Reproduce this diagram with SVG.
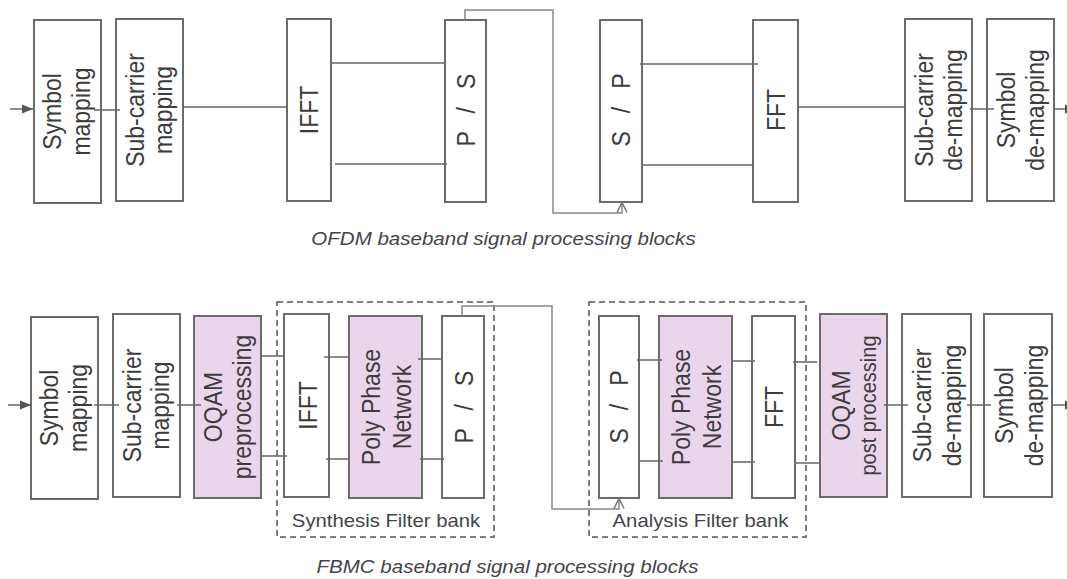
<svg xmlns="http://www.w3.org/2000/svg" width="1067" height="579" viewBox="0 0 1067 579">
<style>
.box{fill:#fff;stroke:#6b6b6b;stroke-width:2}
.pbox{fill:#ead6ea;stroke:#6b6b6b;stroke-width:2}
.ln{fill:none;stroke:#666;stroke-width:1.5}
.cn{fill:none;stroke:#888;stroke-width:1.5}
.dash{fill:none;stroke:#555;stroke-width:1.5;stroke-dasharray:6 4}
.lbl{font-family:"Liberation Sans",Arial,sans-serif;font-size:23px;fill:#3c3c3c;text-anchor:middle}
.sm{font-size:20px}
.ps{word-spacing:11.7px}
.cap{font-family:"Liberation Sans",Arial,sans-serif;font-size:18px;font-style:italic;fill:#44444c;text-anchor:middle}
.fb{font-family:"Liberation Sans",Arial,sans-serif;font-size:17.8px;fill:#44444c;text-anchor:middle}
</style>
<defs>
<marker id="tri" viewBox="0 0 11 10" refX="11" refY="5" markerWidth="11" markerHeight="10" markerUnits="userSpaceOnUse" orient="auto"><path d="M0,0.5 L11,5 L0,9.5 z" fill="#555"/></marker>
<marker id="open" viewBox="0 0 12 12" refX="11" refY="6" markerWidth="12" markerHeight="12" markerUnits="userSpaceOnUse" orient="auto"><path d="M1,1 L11,6 L1,11" fill="none" stroke="#777" stroke-width="1.5"/></marker>
</defs>
<rect width="1067" height="579" fill="#fff"/>

<!-- OFDM row -->
<g id="ofdm-symbol-mapping"><rect class="box" x="34" y="20" width="67" height="183"/>
<text class="lbl" transform="translate(67.5,111.5) scale(1.14,1) rotate(-90)"><tspan x="0" y="-6">Symbol</tspan><tspan x="0" y="19.5">mapping</tspan></text></g>
<g id="ofdm-subcarrier-mapping"><rect class="box" x="116" y="19" width="67" height="182"/>
<text class="lbl" transform="translate(149.5,110) scale(1.14,1) rotate(-90)"><tspan x="0" y="-5">Sub-carrier</tspan><tspan x="0" y="20">mapping</tspan></text></g>
<g id="ofdm-ifft"><rect class="box" x="287" y="19" width="44" height="182"/>
<text class="lbl" transform="translate(309,110) scale(1.14,1) rotate(-90)" x="0" y="8.3">IFFT</text></g>
<g id="ofdm-ps"><rect class="box" x="445" y="20" width="41" height="182"/>
<text class="lbl ps" transform="translate(465.5,110) scale(1.14,1) rotate(-90)" x="0" y="8.3">P / S</text></g>
<g id="ofdm-sp"><rect class="box" x="600" y="20" width="42" height="182"/>
<text class="lbl ps" transform="translate(621,110) scale(1.14,1) rotate(-90)" x="0" y="8.3">S / P</text></g>
<g id="ofdm-fft"><rect class="box" x="753" y="20" width="45" height="182"/>
<text class="lbl" transform="translate(775.5,110) scale(1.14,1) rotate(-90)" x="0" y="8.3">FFT</text></g>
<g id="ofdm-subcarrier-demapping"><rect class="box" x="905" y="19" width="67" height="182"/>
<text class="lbl" transform="translate(938.5,110) scale(1.14,1) rotate(-90)"><tspan x="0" y="-5">Sub-carrier</tspan><tspan x="0" y="21">de-mapping</tspan></text></g>
<g id="ofdm-symbol-demapping"><rect class="box" x="987" y="19" width="67" height="182"/>
<text class="lbl" transform="translate(1020.5,110) scale(1.14,1) rotate(-90)"><tspan x="0" y="-5">Symbol</tspan><tspan x="0" y="21">de-mapping</tspan></text></g>
<text class="cap" transform="translate(503.5,245) scale(1.14,1)" x="0" y="0">OFDM baseband signal processing blocks</text>

<!-- FBMC row -->
<g id="synthesis-filter-bank"><rect class="dash" x="277" y="302" width="217" height="235"/>
<text class="fb" transform="translate(386,527) scale(1.14,1)" x="0" y="0">Synthesis Filter bank</text></g>
<g id="analysis-filter-bank"><rect class="dash" x="589" y="302" width="217" height="235"/>
<text class="fb" transform="translate(700.5,527) scale(1.14,1)" x="0" y="0">Analysis Filter bank</text></g>

<g id="fbmc-symbol-mapping"><rect class="box" x="31" y="317" width="67" height="182"/>
<text class="lbl" transform="translate(64.5,408) scale(1.14,1) rotate(-90)"><tspan x="0" y="-6">Symbol</tspan><tspan x="0" y="19.5">mapping</tspan></text></g>
<g id="fbmc-subcarrier-mapping"><rect class="box" x="113" y="314" width="67" height="183"/>
<text class="lbl" transform="translate(146.5,405.5) scale(1.14,1) rotate(-90)"><tspan x="0" y="-5">Sub-carrier</tspan><tspan x="0" y="20">mapping</tspan></text></g>
<g id="oqam-preprocessing"><rect class="pbox" x="194" y="316" width="67" height="182"/>
<text class="lbl" transform="translate(227.5,407) scale(1.14,1) rotate(-90)"><tspan x="0" y="-4.5">OQAM</tspan><tspan x="0" y="21">preprocessing</tspan></text></g>
<g id="fbmc-ifft"><rect class="box" x="284" y="314" width="45" height="183"/>
<text class="lbl" transform="translate(306.5,405.5) scale(1.14,1) rotate(-90)" x="0" y="8.8">IFFT</text></g>
<g id="synthesis-ppn"><rect class="pbox" x="349" y="316" width="73" height="182"/>
<text class="lbl" transform="translate(385.5,407) scale(1.14,1) rotate(-90)"><tspan x="0" y="-4.5">Poly Phase</tspan><tspan x="0" y="22.5">Network</tspan></text></g>
<g id="fbmc-ps"><rect class="box" x="442" y="316" width="42" height="182"/>
<text class="lbl ps" transform="translate(463,407) scale(1.14,1) rotate(-90)" x="0" y="8.5">P / S</text></g>
<g id="fbmc-sp"><rect class="box" x="599" y="316" width="40" height="182"/>
<text class="lbl ps" transform="translate(619,407) scale(1.14,1) rotate(-90)" x="0" y="8">S / P</text></g>
<g id="analysis-ppn"><rect class="pbox" x="659" y="316" width="73" height="182"/>
<text class="lbl" transform="translate(695.5,407) scale(1.14,1) rotate(-90)"><tspan x="0" y="-4.5">Poly Phase</tspan><tspan x="0" y="22.5">Network</tspan></text></g>
<g id="fbmc-fft"><rect class="box" x="752" y="316" width="43" height="182"/>
<text class="lbl" transform="translate(773.5,407) scale(1.14,1) rotate(-90)" x="0" y="8">FFT</text></g>
<g id="oqam-postprocessing"><rect class="pbox" x="820" y="314" width="67" height="183"/>
<text class="lbl" transform="translate(853.5,405.5) scale(1.14,1) rotate(-90)"><tspan x="0" y="-3">OQAM</tspan><tspan class="sm" x="0" y="20">post processing</tspan></text></g>
<g id="fbmc-subcarrier-demapping"><rect class="box" x="902" y="314" width="69" height="183"/>
<text class="lbl" transform="translate(936.5,405.5) scale(1.14,1) rotate(-90)"><tspan x="0" y="-4.5">Sub-carrier</tspan><tspan x="0" y="21.5">de-mapping</tspan></text></g>
<g id="fbmc-symbol-demapping"><rect class="box" x="984" y="314" width="68" height="183"/>
<text class="lbl" transform="translate(1018,405.5) scale(1.14,1) rotate(-90)"><tspan x="0" y="-4">Symbol</tspan><tspan x="0" y="22">de-mapping</tspan></text></g>
<text class="cap" transform="translate(507.5,573) scale(1.14,1)" x="0" y="0">FBMC baseband signal processing blocks</text>

<g id="connectors">
<!-- OFDM -->
<line class="ln" x1="10" y1="109" x2="33" y2="109" marker-end="url(#tri)"/>
<line class="ln" x1="94" y1="110" x2="120" y2="110"/>
<line class="ln" x1="183" y1="107" x2="287" y2="107"/>
<line class="ln" x1="331" y1="63" x2="445" y2="63"/>
<line class="ln" x1="335" y1="164" x2="447" y2="164"/>
<path class="cn" d="M465,20 V10 H553 V213 H622 V202.5" marker-end="url(#open)"/>
<line class="ln" x1="640" y1="64" x2="758" y2="64"/>
<line class="ln" x1="642" y1="165" x2="753" y2="165"/>
<line class="ln" x1="798" y1="107" x2="905" y2="107"/>
<line class="ln" x1="970" y1="109" x2="994" y2="109"/>
<line class="ln" x1="1054" y1="109" x2="1076" y2="109" marker-end="url(#tri)"/>
<!-- FBMC -->
<line class="ln" x1="8" y1="405" x2="31" y2="405" marker-end="url(#tri)"/>
<line class="ln" x1="94" y1="405" x2="119" y2="405"/>
<line class="ln" x1="177" y1="405" x2="201" y2="405"/>
<line class="ln" x1="261" y1="356" x2="284" y2="356"/>
<line class="ln" x1="261" y1="456" x2="287" y2="456"/>
<line class="ln" x1="324" y1="357" x2="349" y2="357"/>
<line class="ln" x1="326" y1="459" x2="349" y2="459"/>
<line class="ln" x1="418" y1="359" x2="442" y2="359"/>
<line class="ln" x1="420" y1="459" x2="444" y2="459"/>
<path class="cn" d="M462,316 V306 H552 V509 H619 V498.5" marker-end="url(#open)"/>
<line class="ln" x1="637" y1="360" x2="662" y2="360"/>
<line class="ln" x1="640" y1="461" x2="663" y2="461"/>
<line class="ln" x1="732" y1="361" x2="755" y2="361"/>
<line class="ln" x1="732" y1="462" x2="755" y2="462"/>
<line class="ln" x1="793" y1="362" x2="817" y2="362"/>
<line class="ln" x1="796" y1="463" x2="820" y2="463"/>
<line class="ln" x1="884" y1="405" x2="908" y2="405"/>
<line class="ln" x1="967" y1="405" x2="991" y2="405"/>
<line class="ln" x1="1052" y1="405" x2="1076" y2="405" marker-end="url(#tri)"/>
</g>
</svg>
